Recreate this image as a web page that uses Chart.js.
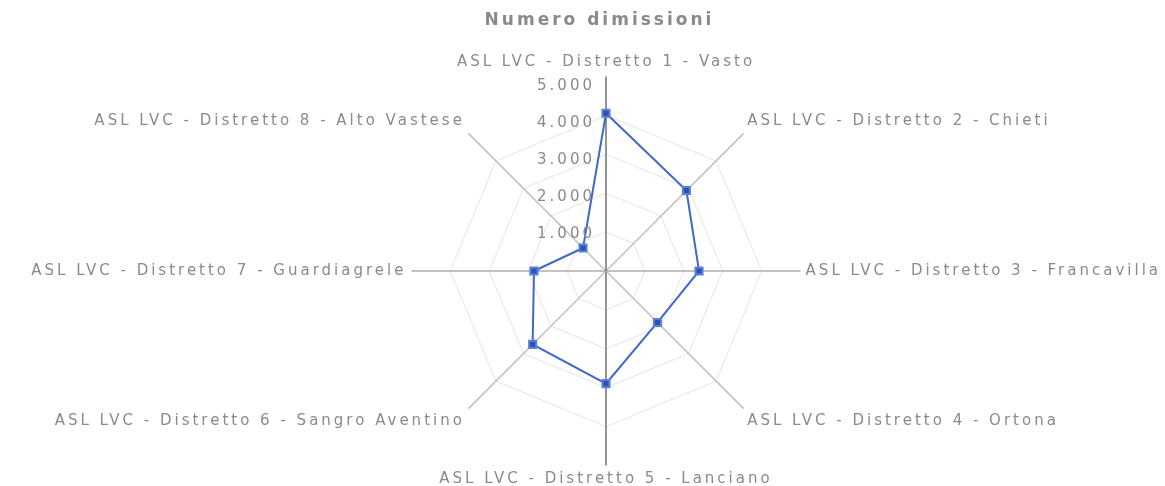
<!DOCTYPE html>
<html lang="it">
<head>
<meta charset="UTF-8">
<title>Numero dimissioni</title>
<script src="https://cdn.jsdelivr.net/npm/chart.js"></script>
<style>
  html, body { margin: 0; padding: 0; background: #fff; overflow: hidden; }
  #page { width: 1165px; height: 486px; overflow: hidden; position: relative; }
  #wrap { position: absolute; left: -16px; top: 4px; width: 1200px; height: 486px; }
</style>
</head>
<body>
<div id="page"><div id="wrap"><canvas id="chart"></canvas></div></div>
<script>
  const distretti = [
    'ASL LVC - Distretto 1 - Vasto',
    'ASL LVC - Distretto 2 - Chieti',
    'ASL LVC - Distretto 3 - Francavilla',
    'ASL LVC - Distretto 4 - Ortona',
    'ASL LVC - Distretto 5 - Lanciano',
    'ASL LVC - Distretto 6 - Sangro Aventino',
    'ASL LVC - Distretto 7 - Guardiagrele',
    'ASL LVC - Distretto 8 - Alto Vastese'
  ];
  const dimissioni = [4270, 3080, 2520, 1970, 3050, 2810, 1950, 880];
  const tickValues = [1000, 2000, 3000, 4000, 5000];

  const fmt = v => v.toLocaleString('it-IT').replace(/\s/g, '.');
  const SPACING = '3px';

  // the original text is set wide, so letter spacing is put on the context
  const wideText = {
    id: 'wideText',
    beforeUpdate(chart) { chart.ctx.letterSpacing = SPACING; },
    beforeDraw(chart) { chart.ctx.letterSpacing = SPACING; }
  };

  // tick labels sit left of the vertical axis, like the original
  const tickLabels = {
    id: 'tickLabels',
    afterDatasetsDraw(chart) {
      const s = chart.scales.r;
      const c = chart.ctx;
      c.save();
      c.letterSpacing = SPACING;
      c.font = '15px "DejaVu Sans"';
      c.fillStyle = '#8a8a8a';
      c.textAlign = 'right';
      c.textBaseline = 'middle';
      tickValues.forEach(v => {
        const d = s.getDistanceFromCenterForValue(v);
        c.fillText(fmt(v), s.xCenter - 11, s.yCenter - d);
      });
      c.restore();
    }
  };

  new Chart(document.getElementById('chart'), {
    type: 'radar',
    data: {
      labels: distretti,
      datasets: [{
        label: 'Numero dimissioni',
        data: dimissioni,
        borderColor: '#4068c8',
        backgroundColor: '#2f58b8',
        borderWidth: 2,
        fill: false,
        pointStyle: 'rect',
        pointRadius: 5,
        pointBorderColor: '#5a80d8',
        pointBackgroundColor: '#2a52b0'
      }]
    },
    options: {
      responsive: true,
      maintainAspectRatio: false,
      animation: false,
      layout: { padding: { top: 0, bottom: 0, left: 31, right: 0 } },
      plugins: {
        legend: { display: false },
        tooltip: { enabled: false },
        title: {
          display: true,
          text: 'Numero dimissioni',
          color: '#8a8a8a',
          font: { family: '"DejaVu Sans"', size: 17, weight: 'bold' },
          padding: { top: 6, bottom: 23 }
        }
      },
      scales: {
        r: {
          min: 0,
          max: 5270,
          afterBuildTicks: s => { s.ticks = s.ticks.filter(t => t.value <= 5000); },
          ticks: { stepSize: 1000, display: false },
          grid: {
            circular: false,
            color: '#e4e4e4',
            lineWidth: 1,
            borderDash: [2, 4]
          },
          angleLines: {
            color: ctx => (ctx.index === 0 || ctx.index === 4) ? '#707070'
              : (ctx.index === 2 || ctx.index === 6) ? '#b4aca4' : '#c4c0bc',
            lineWidth: 1.5
          },
          pointLabels: {
            color: '#8a8a8a',
            padding: 5,
            font: { family: '"DejaVu Sans"', size: 15 }
          }
        }
      }
    },
    plugins: [wideText, tickLabels]
  });
</script>
</body>
</html>
